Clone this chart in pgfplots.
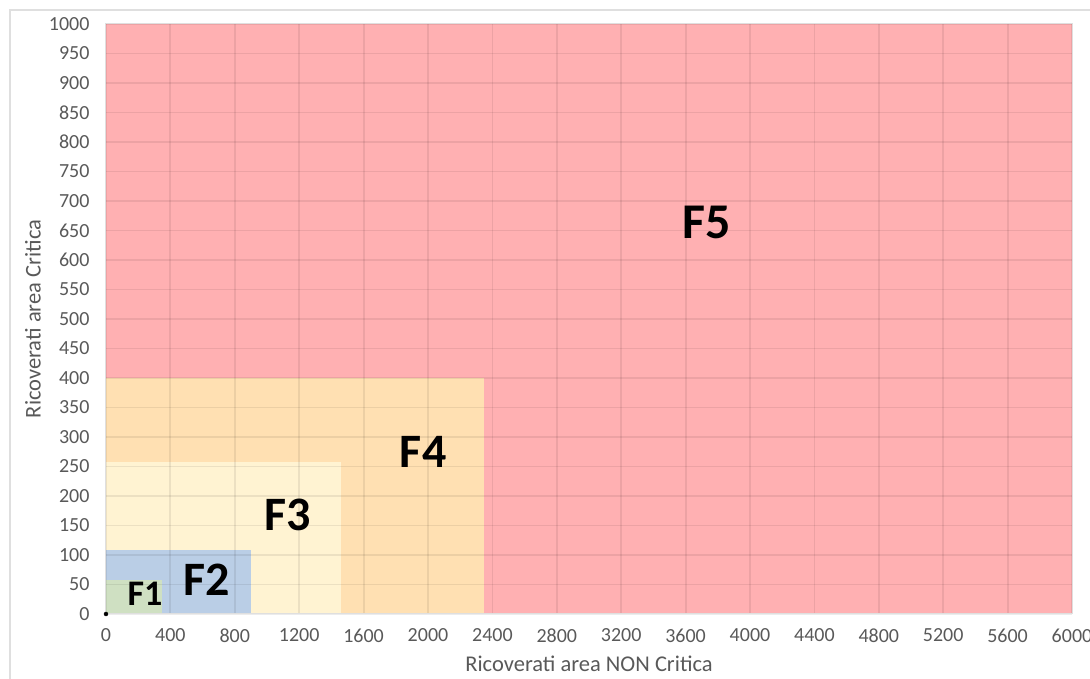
\documentclass[border=0pt]{standalone}
\usepackage{pgfplots}
\pgfplotsset{compat=1.18}
\usepackage{fontspec}
\setmainfont{Carlito}
\definecolor{cF5}{RGB}{255,176,178}
\definecolor{cF4}{RGB}{255,224,178}
\definecolor{cF3}{RGB}{255,243,210}
\definecolor{cF2}{RGB}{186,206,230}
\definecolor{cF1}{RGB}{207,224,194}
\definecolor{tickgray}{RGB}{89,89,89}
\begin{document}
\begin{tikzpicture}[x=1pt,y=1pt]
\path[use as bounding box] (0,0) rectangle (1090,679);
\draw[gray!25, line width=1.2pt] (10,-10) rectangle (1110,669);
\begin{axis}[
  at={(106pt,65pt)}, anchor=south west,
  scale only axis, width=966pt, height=590pt,
  xmin=0, xmax=6000, ymin=0, ymax=1000,
  xtick={0,400,...,6000}, ytick={0,50,...,1000},
  major tick length=0pt,
  axis on top, clip=false,
  grid=major,
  major grid style={black, opacity=0.075, line width=1.8pt},
  axis line style={gray!25, line width=1pt},
  /pgf/number format/.cd, set thousands separator={}, assume math mode=true,
  /pgfplots/.cd,
  tick label style={font=\fontsize{20}{22}\selectfont, text=tickgray},
  xticklabel style={yshift=-11pt},
  yticklabel style={xshift=-13pt},
  xlabel={Ricoverati area NON Critica},
  ylabel={Ricoverati area Critica},
  label style={font=\fontsize{22.5}{24}\selectfont, text=tickgray},
  xlabel style={at={(axis description cs:0.5,-0.0847)}, anchor=center},
  ylabel style={at={(axis description cs:-0.0756,0.5)}, anchor=center},
]
\addplot[fill=cF5, draw=none] coordinates {(0,1000) (6000,1000)} \closedcycle;
\addplot[fill=cF4, draw=none] coordinates {(0,400) (2350,400)} \closedcycle;
\addplot[fill=cF3, draw=none] coordinates {(0,258) (1460,258)} \closedcycle;
\addplot[fill=cF2, draw=none] coordinates {(0,108) (900,108)} \closedcycle;
\addplot[fill=cF1, draw=none] coordinates {(0,58) (345,58)} \closedcycle;
\addplot[only marks, mark=*, mark size=2pt, black] coordinates {(0,0)};
\node[font=\bfseries\fontsize{50}{52}\selectfont] at (axis cs:3730,664) {F5};
\node[font=\bfseries\fontsize{48}{50}\selectfont] at (axis cs:1970,275) {F4};
\node[font=\bfseries\fontsize{48}{50}\selectfont] at (axis cs:1130,168) {F3};
\node[font=\bfseries\fontsize{48}{50}\selectfont] at (axis cs:627,58) {F2};
\node[font=\bfseries\fontsize{36}{38}\selectfont] at (axis cs:242,34) {F1};
\end{axis}
\end{tikzpicture}
\end{document}
